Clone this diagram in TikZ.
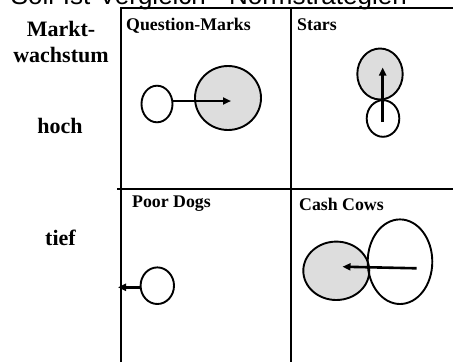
\documentclass[tikz,border=0pt]{standalone}
\usepackage{fontspec}
\setmainfont{Liberation Serif}
\newfontfamily\titlesans{Liberation Sans}
\usetikzlibrary{shapes.geometric,arrows.meta}
\definecolor{cellgray}{HTML}{DDDDDD}
\tikzset{
  grid line/.style={line width=2.3pt},
  blob/.style={ellipse,draw,line width=1.9pt,inner sep=0pt},
  whiteblob/.style={blob,fill=white},
  grayblob/.style={blob,fill=cellgray},
  move/.style={line width=2.6pt,-{Triangle[length=8pt,width=7pt]}},
  cell label/.style={anchor=base west,inner sep=0pt,font=\bfseries\fontsize{17.8}{20}\selectfont},
  axis label/.style={anchor=base,inner sep=0pt,font=\bfseries\fontsize{22}{26}\selectfont},
}
\begin{document}
\begin{tikzpicture}[x=1pt,y=-1pt]
\useasboundingbox (0,0) rectangle (453,362);
\clip (0,0) rectangle (453,362);
% cut-off title
\node[anchor=base east,inner sep=0pt,font=\titlesans\fontsize{26}{30}\selectfont] (title) at (407,4.3) {Soll-Ist-Vergleich - Normstrategien};
% grid
\draw[grid line,line join=miter] (121,362) -- (121,8) -- (453,8);
\draw[grid line] (291,8) -- (291,362);
\draw[grid line] (117,189) -- (453,189);
% axis labels
\node[axis label] (markt) at (61,36) {Markt-};
\node[axis label] (wachstum) at (61,62) {wachstum};
\node[axis label] (hoch) at (60,133) {hoch};
\node[axis label] (tief) at (60.5,245) {tief};
% cell labels
\node[cell label] (qmlabel) at (126,30.5) {Question-Marks};
\node[cell label] (starslabel) at (297,30.5) {Stars};
\node[cell label] (pdlabel) at (132,207) {Poor Dogs};
\node[cell label] (cclabel) at (299,210) {Cash Cows};
% Question-Marks
\node[whiteblob,minimum width=31pt,minimum height=36.6pt] (qmsmall) at (157,104) {};
\node[grayblob,minimum width=66pt,minimum height=64pt] (qmbig) at (228,98) {};
\coordinate (qmtip) at (231,101);
\draw[move] (qmsmall.east |- qmtip) -- (qmtip);
% Stars
\node[grayblob,minimum width=45.4pt,minimum height=51pt] (stgray) at (380,74) {};
\node[whiteblob,minimum width=32.6pt,minimum height=36.6pt] (stwhite) at (383,118.5) {};
\coordinate (ststart) at (382.7,122);
\coordinate (sttip) at (382.7,67.5);
\draw[move] (ststart) -- (sttip);
% Poor Dogs
\node[whiteblob,minimum width=33.4pt,minimum height=36.6pt] (pdcircle) at (157.3,285.7) {};
\coordinate (pdtip) at (118,287.3);
\draw[move] (pdcircle.west |- pdtip) -- (pdtip);
% Cash Cows
\node[grayblob,minimum width=66pt,minimum height=58.4pt] (ccgray) at (336.3,270.8) {};
\node[blob,minimum width=64.6pt,minimum height=84.6pt] (ccwhite) at (400,261.7) {};
\coordinate (ccstart) at (416.7,268.3);
\coordinate (cctip) at (342.5,266.7);
\draw[move] (ccstart) -- (cctip);
\end{tikzpicture}
\end{document}
